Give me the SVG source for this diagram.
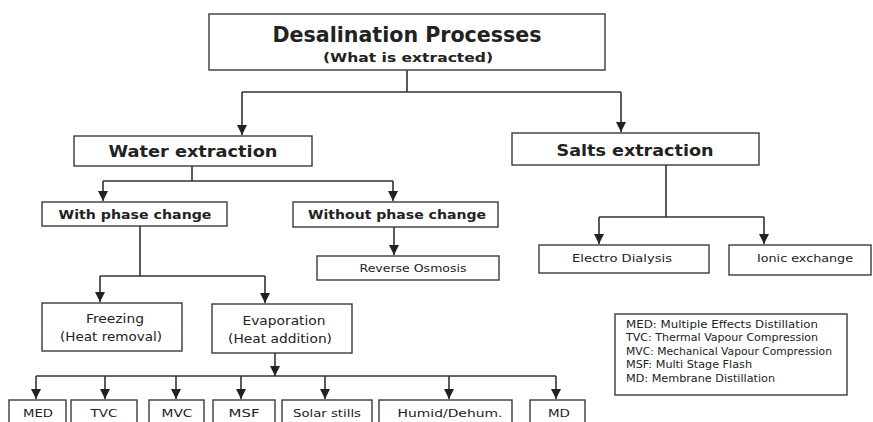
<svg xmlns="http://www.w3.org/2000/svg" width="873" height="422" viewBox="0 0 873 422">
<style>
.box{fill:#fff;stroke:#3a3a3a;stroke-width:1.4}
.t{font-family:"DejaVu Sans","Liberation Sans",sans-serif;fill:#222;text-anchor:middle}
.b{font-weight:bold}
.lg{font-family:"DejaVu Sans","Liberation Sans",sans-serif;fill:#222;font-size:10px}
.c{fill:none;stroke:#333;stroke-width:1.6}
</style>
<defs>
<marker id="ah" viewBox="0 0 10 10" refX="10" refY="5" markerWidth="10" markerHeight="10" markerUnits="userSpaceOnUse" orient="auto">
<path d="M0,0 L10,5 L0,10 z" fill="#222"/>
</marker>
</defs>
<rect width="873" height="422" fill="#fff"/>
<g id="connectors">
<path class="c" d="M407,70 V92 M242,92 H621"/>
<path class="c" d="M242,92 V135" marker-end="url(#ah)"/>
<path class="c" d="M621,92 V132" marker-end="url(#ah)"/>
<path class="c" d="M192,166 V181 M103,181 H393"/>
<path class="c" d="M103,181 V201" marker-end="url(#ah)"/>
<path class="c" d="M393,181 V201" marker-end="url(#ah)"/>
<path class="c" d="M394,227 V255" marker-end="url(#ah)"/>
<path class="c" d="M140,226 V276 M100,276 H265"/>
<path class="c" d="M100,276 V302" marker-end="url(#ah)"/>
<path class="c" d="M265,276 V303" marker-end="url(#ah)"/>
<path class="c" d="M666,165 V217 M599,217 H764"/>
<path class="c" d="M599,217 V244" marker-end="url(#ah)"/>
<path class="c" d="M764,217 V244" marker-end="url(#ah)"/>
<path class="c" d="M275,353 V376" marker-end="url(#ah)"/>
<path class="c" d="M36,376 H556"/>
<path class="c" d="M36,376 V399" marker-end="url(#ah)"/>
<path class="c" d="M105,376 V399" marker-end="url(#ah)"/>
<path class="c" d="M176,376 V399" marker-end="url(#ah)"/>
<path class="c" d="M241,376 V399" marker-end="url(#ah)"/>
<path class="c" d="M325,376 V399" marker-end="url(#ah)"/>
<path class="c" d="M449,376 V399" marker-end="url(#ah)"/>
<path class="c" d="M556,376 V399" marker-end="url(#ah)"/>
</g>
<g id="desalination">
<rect class="box" x="209" y="14" width="396" height="56"/>
<text class="t b" x="407" y="42" font-size="21" textLength="269" lengthAdjust="spacingAndGlyphs">Desalination Processes</text>
<text class="t b" x="408" y="62" font-size="13" textLength="170" lengthAdjust="spacingAndGlyphs">(What is extracted)</text>
</g>
<g id="water">
<rect class="box" x="74" y="136" width="238" height="30"/>
<text class="t b" x="193" y="157" font-size="15" textLength="169" lengthAdjust="spacingAndGlyphs">Water extraction</text>
</g>
<g id="salts">
<rect class="box" x="512" y="133" width="247" height="32"/>
<text class="t b" x="635" y="156" font-size="15" textLength="157" lengthAdjust="spacingAndGlyphs">Salts extraction</text>
</g>
<g id="with">
<rect class="box" x="42" y="202" width="185" height="24"/>
<text class="t b" x="135" y="219" font-size="13" textLength="153" lengthAdjust="spacingAndGlyphs">With phase change</text>
</g>
<g id="without">
<rect class="box" x="293" y="202" width="205" height="25"/>
<text class="t b" x="397" y="219" font-size="13" textLength="178" lengthAdjust="spacingAndGlyphs">Without phase change</text>
</g>
<g id="ro">
<rect class="box" x="317" y="256" width="182" height="24"/>
<text class="t" x="413" y="272" font-size="11" textLength="107" lengthAdjust="spacingAndGlyphs">Reverse Osmosis</text>
</g>
<g id="ed">
<rect class="box" x="539" y="245" width="170" height="28"/>
<text class="t" x="622" y="262" font-size="11" textLength="100" lengthAdjust="spacingAndGlyphs">Electro Dialysis</text>
</g>
<g id="ionic">
<rect class="box" x="729" y="245" width="142" height="30"/>
<text class="t" x="805" y="262" font-size="11" textLength="96" lengthAdjust="spacingAndGlyphs">Ionic exchange</text>
</g>
<g id="freezing">
<rect class="box" x="42" y="303" width="140" height="48"/>
<text class="t" x="115" y="323" font-size="13" textLength="58" lengthAdjust="spacingAndGlyphs">Freezing</text>
<text class="t" x="111" y="341" font-size="13" textLength="102" lengthAdjust="spacingAndGlyphs">(Heat removal)</text>
</g>
<g id="evaporation">
<rect class="box" x="212" y="304" width="140" height="49"/>
<text class="t" x="284" y="325" font-size="13" textLength="83" lengthAdjust="spacingAndGlyphs">Evaporation</text>
<text class="t" x="280" y="343" font-size="13" textLength="104" lengthAdjust="spacingAndGlyphs">(Heat addition)</text>
</g>
<g id="med">
<rect class="box" x="9" y="400" width="57" height="30"/>
<text class="t" x="38" y="417" font-size="11" textLength="30" lengthAdjust="spacingAndGlyphs">MED</text>
</g>
<g id="tvc">
<rect class="box" x="71" y="400" width="66" height="30"/>
<text class="t" x="104" y="417" font-size="11" textLength="27" lengthAdjust="spacingAndGlyphs">TVC</text>
</g>
<g id="mvc">
<rect class="box" x="149" y="400" width="55" height="30"/>
<text class="t" x="177" y="417" font-size="11" textLength="31" lengthAdjust="spacingAndGlyphs">MVC</text>
</g>
<g id="msf">
<rect class="box" x="213" y="400" width="62" height="30"/>
<text class="t" x="244" y="417" font-size="11" textLength="31" lengthAdjust="spacingAndGlyphs">MSF</text>
</g>
<g id="solar">
<rect class="box" x="282" y="400" width="90" height="30"/>
<text class="t" x="327" y="417" font-size="11" textLength="68" lengthAdjust="spacingAndGlyphs">Solar stills</text>
</g>
<g id="humid">
<rect class="box" x="379" y="400" width="133" height="30"/>
<text class="t" x="450" y="417" font-size="11" textLength="105" lengthAdjust="spacingAndGlyphs">Humid/Dehum.</text>
</g>
<g id="md">
<rect class="box" x="530" y="400" width="55" height="30"/>
<text class="t" x="559" y="417" font-size="11" textLength="22" lengthAdjust="spacingAndGlyphs">MD</text>
</g>
<g id="legend">
<rect class="box" x="615" y="314" width="232" height="81" stroke-width="1.2"/>
<text class="lg" x="626" y="328" textLength="192" lengthAdjust="spacingAndGlyphs">MED: Multiple Effects Distillation</text>
<text class="lg" x="626" y="341" textLength="192" lengthAdjust="spacingAndGlyphs">TVC: Thermal Vapour Compression</text>
<text class="lg" x="626" y="355" textLength="206" lengthAdjust="spacingAndGlyphs">MVC: Mechanical Vapour Compression</text>
<text class="lg" x="626" y="368" textLength="126" lengthAdjust="spacingAndGlyphs">MSF: Multi Stage Flash</text>
<text class="lg" x="626" y="382" textLength="149" lengthAdjust="spacingAndGlyphs">MD: Membrane Distillation</text>
</g>
</svg>
